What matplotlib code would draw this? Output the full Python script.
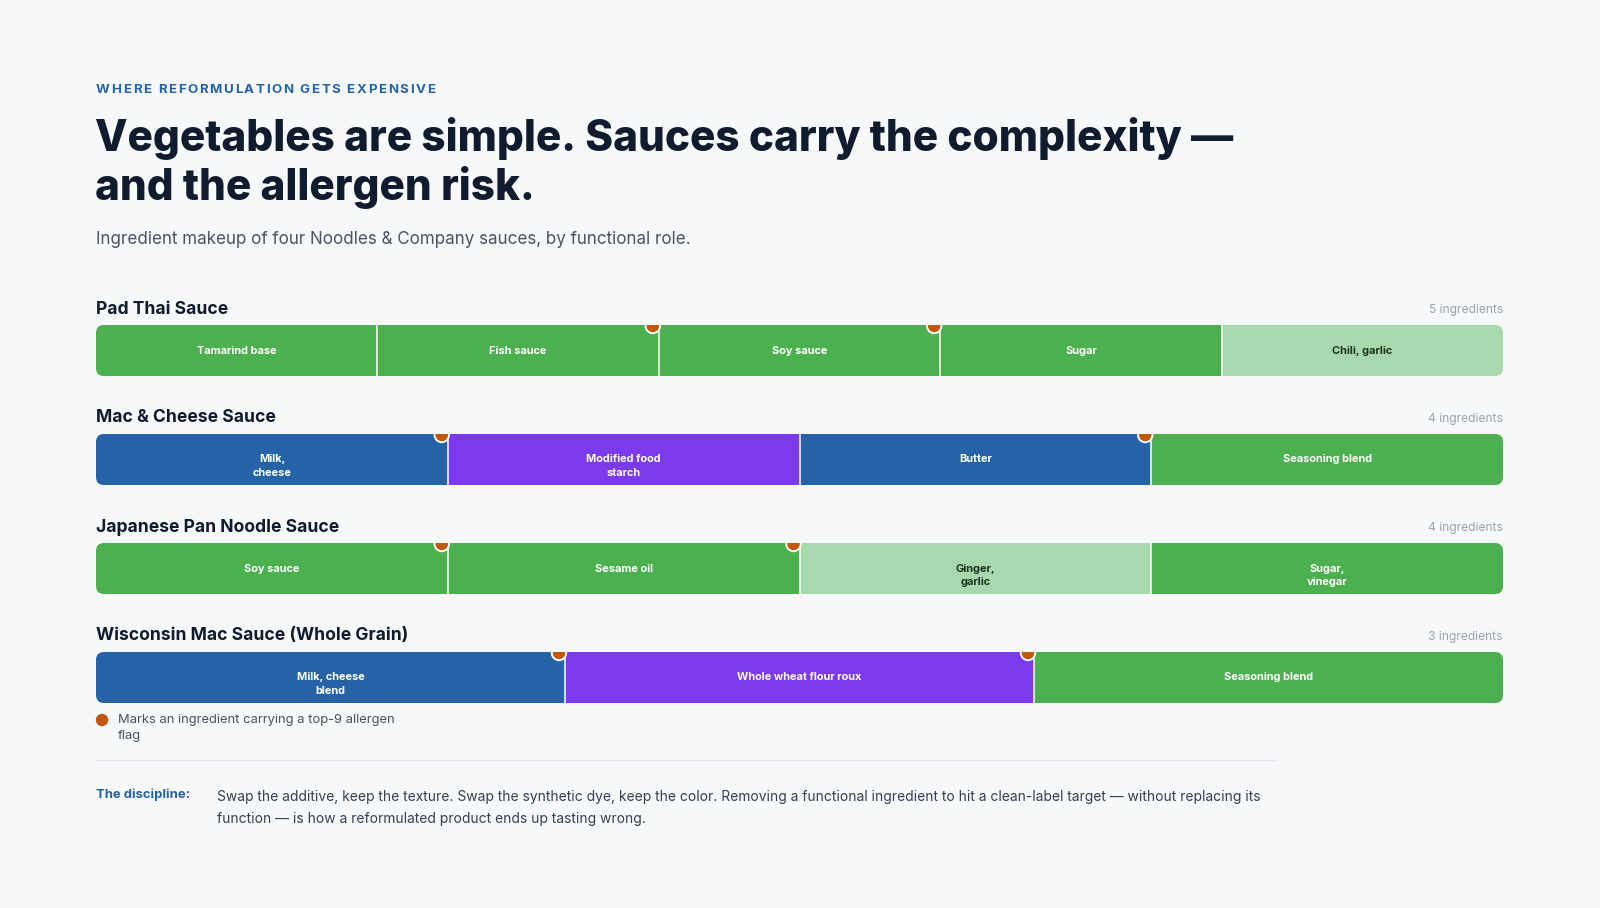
import numpy as np
import matplotlib
matplotlib.use("Agg")
import matplotlib.pyplot as plt
from matplotlib.patches import FancyBboxPatch, Circle
from matplotlib.font_manager import FontProperties

# ---------------- data ----------------
sauces = ["Pad Thai Sauce", "Mac & Cheese Sauce", "Japanese Pan Noodle Sauce",
          "Wisconsin Mac Sauce (Whole Grain)"]
ingredients = [
    ["Tamarind base", "Fish sauce", "Soy sauce", "Sugar", "Chili, garlic"],
    ["Milk,\ncheese", "Modified food\nstarch", "Butter", "Seasoning blend"],
    ["Soy sauce", "Sesame oil", "Ginger,\ngarlic", "Sugar,\nvinegar"],
    ["Milk, cheese\nblend", "Whole wheat flour roux", "Seasoning blend"],
]
roles = [
    ["flavor", "flavor", "flavor", "flavor", "aromatic"],
    ["dairy", "starch", "dairy", "flavor"],
    ["flavor", "flavor", "aromatic", "flavor"],
    ["dairy", "starch", "flavor"],
]
allergen = [
    [0, 1, 1, 0, 0],
    [1, 0, 1, 0],
    [1, 1, 0, 0],
    [1, 1, 0],
]
shares = [
    [1, 1, 1, 1, 1],
    [1, 1, 1, 1],
    [1, 1, 1, 1],
    [1, 1, 1],
]
eyebrow = "WHERE REFORMULATION GETS EXPENSIVE"
title_lines = ["Vegetables are simple. Sauces carry the complexity \u2014",
               "and the allergen risk."]
subtitle = "Ingredient makeup of four Noodles & Company sauces, by functional role."
legend_text = ["Marks an ingredient carrying a top-9 allergen", "flag"]
note_label = "The discipline:"
note_lines = ["Swap the additive, keep the texture. Swap the synthetic dye, keep the color. "
              "Removing a functional ingredient to hit a clean-label target \u2014 without replacing its",
              "function \u2014 is how a reformulated product ends up tasting wrong."]

# ---------------- style ----------------
BG = "#f7f8fa"
ROLE_COLORS = {"flavor": "#4caf50", "aromatic": "#a8d8ad", "dairy": "#2563a6", "starch": "#7c3aed"}
ROLE_TEXT = {"flavor": "white", "aromatic": "#1c3320", "dairy": "white", "starch": "white"}
DOT = "#c2570c"
INK = "#111b2e"
BLUE = "#2563a6"
FAM = ["Inter", "DejaVu Sans"]

W, H = 1600, 908
fig = plt.figure(figsize=(W / 100, H / 100), dpi=100)
fig.patch.set_facecolor(BG)
ax = fig.add_axes([0, 0, 1, 1])
ax.set_xlim(0, W)
ax.set_ylim(H, 0)
ax.axis("off")
ax.set_facecolor(BG)
renderer = fig.canvas.get_renderer()

X0, X1 = 96, 1503
BAR_H = 51
bar_tops = [325, 434, 543, 652]


def text_width(s, size, weight="normal"):
    fp = FontProperties(family=FAM, size=size, weight=weight)
    w, h, d = renderer.get_text_width_height_descent(s, fp, ismath=False)
    return w


# eyebrow with letter spacing
ey_size, ey_w = 9.6, "bold"
target_w = 339
chars = list(eyebrow)
space_w = text_width("A A", ey_size, ey_w) - text_width("AA", ey_size, ey_w)
adv = [space_w if c == " " else text_width(c, ey_size, ey_w) for c in chars]
spacing = (target_w - sum(adv)) / (len(chars) - 1)
x = X0
for c, a in zip(chars, adv):
    if c != " ":
        ax.text(x, 90, c, family=FAM, size=ey_size, weight=ey_w, color=BLUE,
                ha="left", va="center")
    x += a + spacing

# title auto-fit width
t_size = 38
w1 = text_width(title_lines[0], t_size, "heavy")
t_size = t_size * 1139 / w1
for i, line in enumerate(title_lines):
    ax.text(X0 - 1, 138.5 + i * 49, line, family=FAM, size=t_size, weight="heavy",
            color=INK, ha="left", va="center")

ax.text(X0, 239, subtitle, family=FAM, size=12.25, color="#4b5563", ha="left", va="center")

# rows
for r, name in enumerate(sauces):
    top = bar_tops[r]
    ax.text(X0, top - 16, name, family=FAM, size=12.6, weight="bold", color=INK,
            ha="left", va="center")
    n = len(ingredients[r])
    ax.text(X1, top - 15, f"{n} ingredients", family=FAM, size=8.7, color="#9ca3af",
            ha="right", va="center")

    clip = FancyBboxPatch((X0, top), X1 - X0, BAR_H,
                          boxstyle="round,pad=0,rounding_size=8",
                          fc="none", ec="none", transform=ax.transData)
    ax.add_patch(clip)

    w = np.array(shares[r], dtype=float)
    edges = X0 + np.concatenate([[0], np.cumsum(w)]) / w.sum() * (X1 - X0)
    lefts, widths = edges[:-1], np.diff(edges)
    cols = [ROLE_COLORS[k] for k in roles[r]]
    bars = ax.barh(top + BAR_H / 2, widths, left=lefts, height=BAR_H, color=cols,
                   edgecolor="none", linewidth=0)
    for b in bars:
        b.set_clip_path(clip)
    # separators
    for e in edges[1:-1]:
        ax.plot([e, e], [top, top + BAR_H], color="white", lw=1.1, solid_capstyle="butt")
    # labels
    for i, lab in enumerate(ingredients[r]):
        cx = lefts[i] + widths[i] / 2
        for j, part in enumerate(lab.split("\n")):
            ax.text(cx, top + BAR_H / 2 + j * 13.3, part, family=FAM, size=7.9,
                    weight="bold", color=ROLE_TEXT[roles[r][i]], ha="center", va="center")
    # allergen dots
    for i, flag in enumerate(allergen[r]):
        if flag:
            c = Circle((edges[i + 1] - 6, top + 1), 7.2, fc=DOT, ec="white", lw=1.4, zorder=4)
            ax.add_patch(c)
            c.set_clip_path(clip)

# legend
ax.add_patch(Circle((102, 720), 6.2, fc=DOT, ec="none"))
for j, line in enumerate(legend_text):
    ax.text(118, 720 + j * 15.5, line, family=FAM, size=9.35, color="#4b5563",
            ha="left", va="center")

# rule
ax.plot([X0, 1276], [760, 760], color="#e3e6ea", lw=1)

# note
ax.text(X0, 795, note_label, family=FAM, size=9.4, weight="bold", color=BLUE,
        ha="left", va="center")
for j, line in enumerate(note_lines):
    ax.text(217, 797 + j * 22.5, line, family=FAM, size=9.97, color="#374151",
            ha="left", va="center")

fig.savefig("out.png", dpi=100, facecolor=BG)
